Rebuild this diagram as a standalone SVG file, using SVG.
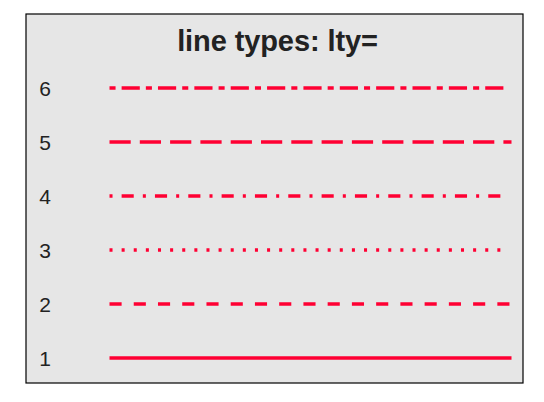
<svg xmlns="http://www.w3.org/2000/svg" width="544" height="402" viewBox="0 0 544 402">
<style>
.lbl{font-family:"Liberation Sans",Arial,sans-serif;font-size:21px;fill:#222;text-anchor:middle}
.ttl{font-family:"Liberation Sans",Arial,sans-serif;font-size:29px;font-weight:bold;fill:#222;text-anchor:middle}
.ln{stroke:#ff0033;stroke-width:3.4;fill:none;stroke-linecap:butt}
</style>
<rect x="0" y="0" width="544" height="402" fill="#fff"/>
<rect id="panel" x="26" y="14" width="497" height="369" fill="#e6e6e6" stroke="#000" stroke-width="1.2"/>
<text id="title" class="ttl" x="277.5" y="51" letter-spacing="-0.1">line types: lty=</text>
<g id="labels">
<text id="lab6" class="lbl" x="45" y="95.5">6</text>
<text id="lab5" class="lbl" x="45" y="149.5">5</text>
<text id="lab4" class="lbl" x="45" y="203.5">4</text>
<text id="lab3" class="lbl" x="45" y="257.5">3</text>
<text id="lab2" class="lbl" x="45" y="311.5">2</text>
<text id="lab1" class="lbl" x="45" y="365.5">1</text>
</g>
<g id="lines">
<line id="lty6" class="ln" x1="109.5" y1="88" x2="508.5" y2="88" stroke-dasharray="6.06 6.06 18.18 6.06"/>
<line id="lty5" class="ln" x1="109.5" y1="142" x2="511.5" y2="142" stroke-dasharray="21.21 9.09"/>
<line id="lty4" class="ln" x1="109.5" y1="196" x2="508.5" y2="196" stroke-dasharray="3.03 9.09 12.12 9.09"/>
<line id="lty3" class="ln" x1="109.5" y1="250" x2="508.5" y2="250" stroke-dasharray="3.03 9.09"/>
<line id="lty2" class="ln" x1="109.5" y1="304" x2="511.5" y2="304" stroke-dasharray="12.12 12.12"/>
<line id="lty1" class="ln" x1="109.5" y1="358" x2="511.5" y2="358"/>
</g>
</svg>
